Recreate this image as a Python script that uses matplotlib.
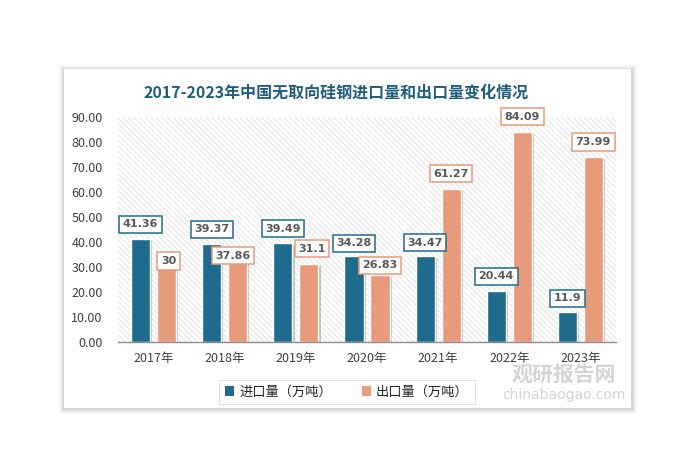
import matplotlib
matplotlib.use("Agg")
import matplotlib.pyplot as plt
import matplotlib.patheffects as pe
from matplotlib.patches import Rectangle
import numpy as np

# ---- data ----
years = ["2017年", "2018年", "2019年", "2020年", "2021年", "2022年", "2023年"]
imports = [41.36, 39.37, 39.49, 34.28, 34.47, 20.44, 11.9]
exports = [30, 37.86, 31.1, 26.83, 61.27, 84.09, 73.99]
import_labels = ["41.36", "39.37", "39.49", "34.28", "34.47", "20.44", "11.9"]
export_labels = ["30", "37.86", "31.1", "26.83", "61.27", "84.09", "73.99"]
series_names = ["进口量（万吨）", "出口量（万吨）"]
title = "2017-2023年中国无取向硅钢进口量和出口量变化情况"

# label offsets (pixels) relative to bar top centre
imp_off = [(0, 14.5), (0, 14.5), (0, 14.5), (0, 13), (0, 13), (0, 14.5), (0, 14)]
exp_off = [(2, 6), (-5, -8.5), (3, 15.5), (0, 9.5), (0, 15), (0, 15), (0, 15)]

CJK = ["Noto Sans CJK SC", "DejaVu Sans"]
plt.rcParams["font.family"] = CJK

W, H = 690, 468
fig = plt.figure(figsize=(W / 100, H / 100), dpi=100)
fig.patch.set_facecolor("white")

# card with soft shadow
cx0, cx1, cy0, cy1 = 64, 631, 69, 408
for i, a in enumerate([0.05, 0.04, 0.03, 0.02, 0.015, 0.01]):
    g = i + 1
    fig.patches.append(Rectangle(((cx0 - g) / W, 1 - (cy1 + g + 1) / H),
                                 (cx1 - cx0 + 2 * g + 1) / W, (cy1 - cy0 + 2 * g) / H,
                                 transform=fig.transFigure, facecolor="black",
                                 alpha=a, edgecolor="none", zorder=0))
fig.patches.append(Rectangle((cx0 / W, 1 - cy1 / H), (cx1 - cx0) / W, (cy1 - cy0) / H,
                             transform=fig.transFigure, facecolor="white",
                             edgecolor="none", zorder=0.5))

ax_l, ax_r, ax_t, ax_b = 118, 616, 117, 342
ax = fig.add_axes([ax_l / W, 1 - ax_b / H, (ax_r - ax_l) / W, (ax_b - ax_t) / H])
ax.set_facecolor("none")
ax.set_zorder(2)

# hatched plot background
plt.rcParams["hatch.linewidth"] = 0.45
ax.add_patch(Rectangle((0, 0), 1, 1, transform=ax.transAxes, facecolor="white",
                       edgecolor="#d6d6d6", hatch="\\" * 6, linewidth=0, zorder=0))

x = np.arange(len(years))
c_imp = "#1f6b8e"
c_exp = "#e89b7a"
bw = 0.27
off = 0.1825
shadow = [pe.SimplePatchShadow(offset=(1.5, -1.5), shadow_rgbFace="#808080", alpha=0.45), pe.Normal()]
b1 = ax.bar(x - off, imports, bw, color=c_imp, edgecolor="white", linewidth=1,
            zorder=3, label=series_names[0])
b2 = ax.bar(x + off, exports, bw, color=c_exp, edgecolor="white", linewidth=1,
            zorder=3, label=series_names[1])
for b in list(b1) + list(b2):
    b.set_path_effects(shadow)

def lab(xp, yp, txt, ec, o):
    ax.annotate(txt, (xp, yp), xytext=o, textcoords="offset pixels",
                ha="center", va="center", fontsize=8, fontweight="bold",
                family=["DejaVu Sans"], color="#595959", zorder=5,
                bbox=dict(boxstyle="square,pad=0.32", facecolor="white",
                          edgecolor=ec, linewidth=1.1))

for i in range(len(years)):
    lab(x[i] - off, imports[i], import_labels[i], c_imp, imp_off[i])
    lab(x[i] + off, exports[i], export_labels[i], c_exp, exp_off[i])

ax.set_xlim(-0.5, len(years) - 0.5)
ax.set_ylim(0, 90)
ax.set_yticks(np.arange(0, 91, 10))
ax.set_yticklabels([f"{v:.2f}" for v in np.arange(0, 91, 10)])
ax.set_xticks(x)
ax.set_xticklabels(years)
ax.tick_params(axis="y", length=0, pad=11, labelsize=9, labelcolor="#404040")
ax.tick_params(axis="x", length=0, pad=7, labelsize=9, labelcolor="#404040")
for s in ["top", "right", "left"]:
    ax.spines[s].set_visible(False)
ax.spines["bottom"].set_color("#8c8c8c")
ax.spines["bottom"].set_linewidth(1)
ax.spines["bottom"].set_zorder(4)

fig.text(336 / W, 1 - 93 / H, title, ha="center", va="center", fontsize=11.5,
         fontweight="bold", color="#215e7e")

leg = fig.legend(handles=[b1, b2], labels=series_names, loc="center",
                 bbox_to_anchor=(347 / W, 1 - 392 / H), ncol=2, fontsize=9.5,
                 frameon=True, fancybox=False, handlelength=0.7, handleheight=0.7,
                 columnspacing=2.2, handletextpad=0.4, borderpad=0.45)
leg.get_frame().set_edgecolor("#d9d9d9")
leg.get_frame().set_linewidth(0.8)
for h in leg.legend_handles:
    h.set_path_effects([])
    h.set_edgecolor("none")
for t in leg.get_texts():
    t.set_color("#262626")

# watermark
fig.text(564 / W, 1 - 374 / H, "观研报告网", ha="center", va="center", fontsize=15,
         fontweight="bold", color="#a0a0a0", alpha=0.45, zorder=6)
fig.text(564 / W, 1 - 395 / H, "chinabaogao.com", ha="center", va="center", fontsize=10,
         color="#a0a0a0", alpha=0.45, zorder=6, family=["DejaVu Sans"])

fig.savefig("out.png", dpi=100, facecolor="white")
